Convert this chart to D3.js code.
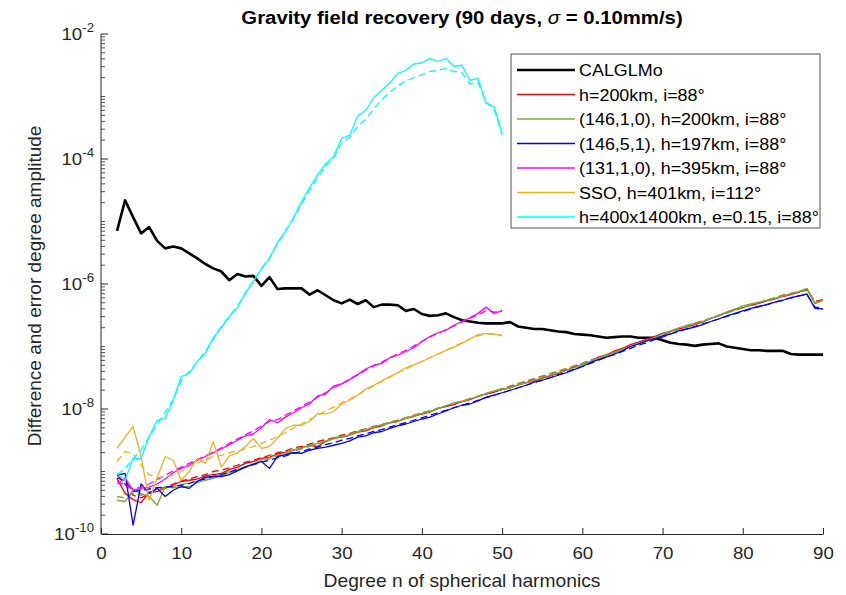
<!DOCTYPE html>
<html><head><meta charset="utf-8">
<script src="https://cdn.jsdelivr.net/npm/d3@7"></script>
<style>body{margin:0;background:#fff}svg{display:block}text{font-family:"Liberation Sans",Arial,sans-serif}</style>
</head><body>
<svg id="c" width="846" height="595"></svg>
<script>
// ---- data (values given as log10 of the amplitude) ----
const titleText = "Gravity field recovery (90 days, ";
const xLabel = "Degree n of spherical harmonics";
const yLabel = "Difference and error degree amplitude";
const xTicks = [0,10,20,30,40,50,60,70,80,90];
const yTickExps = [-2,-4,-6,-8,-10];
const legendLabels = ["CALGLMo","h=200km, i=88°","(146,1,0), h=200km, i=88°","(146,5,1), h=197km, i=88°","(131,1,0), h=395km, i=88°","SSO, h=401km, i=112°","h=400x1400km, e=0.15, i=88°"];
const colors = ["#000000","#ff0000","#77ac30","#0000ff","#ff00ff","#edb120","#00ffff"];
const firstDegree = 2;

const calglmo = [-5.15,-4.66,-4.93,-5.19,-5.09,-5.31,-5.43,-5.40,-5.43,-5.51,-5.59,-5.68,-5.75,-5.80,-5.94,-5.84,-5.88,-5.87,-6.03,-5.89,-6.08,-6.07,-6.07,-6.07,-6.17,-6.10,-6.18,-6.26,-6.31,-6.25,-6.32,-6.26,-6.37,-6.33,-6.33,-6.34,-6.43,-6.40,-6.48,-6.51,-6.50,-6.47,-6.53,-6.58,-6.60,-6.62,-6.63,-6.63,-6.63,-6.61,-6.68,-6.70,-6.72,-6.72,-6.74,-6.76,-6.77,-6.80,-6.81,-6.82,-6.84,-6.86,-6.85,-6.84,-6.84,-6.86,-6.86,-6.86,-6.90,-6.94,-6.96,-6.97,-6.99,-6.97,-6.96,-6.95,-7.00,-7.02,-7.04,-7.06,-7.06,-7.07,-7.07,-7.07,-7.12,-7.13,-7.13,-7.13,-7.13];

const red = [-9.11,-9.35,-9.45,-9.50,-9.33,-9.32,-9.27,-9.22,-9.16,-9.14,-9.12,-9.07,-9.05,-9.03,-8.97,-8.93,-8.87,-8.84,-8.79,-8.77,-8.72,-8.69,-8.66,-8.62,-8.58,-8.60,-8.52,-8.47,-8.45,-8.42,-8.37,-8.35,-8.30,-8.27,-8.22,-8.20,-8.15,-8.12,-8.08,-8.05,-7.99,-7.96,-7.93,-7.88,-7.85,-7.80,-7.76,-7.73,-7.69,-7.66,-7.62,-7.58,-7.55,-7.51,-7.47,-7.43,-7.38,-7.33,-7.29,-7.24,-7.17,-7.14,-7.07,-7.03,-6.97,-6.93,-6.88,-6.84,-6.79,-6.76,-6.72,-6.69,-6.65,-6.61,-6.55,-6.51,-6.45,-6.41,-6.38,-6.34,-6.31,-6.27,-6.24,-6.20,-6.17,-6.13,-6.08,-6.31,-6.26];
const redDash = [-9.05,-9.20,-9.38,-9.42,-9.36,-9.30,-9.25,-9.20,-9.15,-9.12,-9.08,-9.05,-9.00,-8.98,-8.94,-8.90,-8.85,-8.82,-8.78,-8.74,-8.70,-8.67,-8.62,-8.60,-8.56,-8.52,-8.49,-8.46,-8.42,-8.39,-8.35,-8.32,-8.28,-8.25,-8.21,-8.18,-8.14,-8.10,-8.06,-8.03,-7.99,-7.95,-7.92,-7.88,-7.84,-7.80,-7.76,-7.72,-7.68,-7.64,-7.60,-7.56,-7.52,-7.48,-7.44,-7.40,-7.36,-7.31,-7.27,-7.22,-7.18,-7.13,-7.09,-7.04,-7.00,-6.95,-6.90,-6.86,-6.81,-6.77,-6.72,-6.68,-6.63,-6.59,-6.55,-6.50,-6.46,-6.42,-6.38,-6.34,-6.30,-6.26,-6.22,-6.18,-6.15,-6.12,-6.10,-6.28,-6.25];

const green = [-9.46,-9.48,-9.30,-9.35,-9.40,-9.54,-9.24,-9.26,-9.25,-9.24,-9.18,-9.14,-9.11,-9.06,-9.02,-8.98,-8.93,-8.88,-8.82,-8.78,-8.74,-8.70,-8.65,-8.63,-8.58,-8.55,-8.51,-8.46,-8.44,-8.42,-8.36,-8.33,-8.29,-8.25,-8.22,-8.19,-8.15,-8.11,-8.07,-8.04,-7.99,-7.95,-7.90,-7.88,-7.84,-7.80,-7.75,-7.71,-7.69,-7.66,-7.61,-7.58,-7.54,-7.50,-7.46,-7.42,-7.38,-7.34,-7.29,-7.25,-7.19,-7.16,-7.10,-7.05,-7.00,-6.95,-6.90,-6.86,-6.80,-6.75,-6.70,-6.66,-6.63,-6.60,-6.55,-6.50,-6.45,-6.40,-6.35,-6.32,-6.29,-6.26,-6.23,-6.19,-6.16,-6.12,-6.07,-6.31,-6.26];
const greenDash = [-9.40,-9.42,-9.35,-9.38,-9.35,-9.30,-9.27,-9.24,-9.21,-9.18,-9.15,-9.11,-9.08,-9.04,-9.00,-8.96,-8.92,-8.88,-8.84,-8.80,-8.76,-8.72,-8.68,-8.64,-8.60,-8.56,-8.52,-8.48,-8.44,-8.40,-8.36,-8.33,-8.29,-8.26,-8.22,-8.18,-8.14,-8.11,-8.07,-8.03,-7.99,-7.95,-7.91,-7.87,-7.83,-7.79,-7.75,-7.71,-7.67,-7.63,-7.59,-7.55,-7.51,-7.47,-7.43,-7.39,-7.35,-7.31,-7.27,-7.22,-7.18,-7.13,-7.09,-7.04,-7.00,-6.95,-6.91,-6.86,-6.82,-6.77,-6.73,-6.68,-6.64,-6.59,-6.55,-6.51,-6.47,-6.42,-6.38,-6.34,-6.30,-6.26,-6.22,-6.19,-6.15,-6.12,-6.09,-6.30,-6.27];

const blue = [-9.06,-9.03,-9.86,-9.20,-9.35,-9.27,-9.40,-9.30,-9.24,-9.27,-9.16,-9.09,-9.08,-9.08,-9.05,-8.99,-8.93,-8.88,-8.84,-8.95,-8.76,-8.73,-8.70,-8.71,-8.66,-8.63,-8.61,-8.58,-8.55,-8.51,-8.45,-8.43,-8.38,-8.36,-8.31,-8.27,-8.24,-8.20,-8.16,-8.13,-8.08,-8.03,-7.98,-7.94,-7.92,-7.87,-7.81,-7.78,-7.74,-7.70,-7.66,-7.62,-7.57,-7.54,-7.50,-7.46,-7.42,-7.37,-7.32,-7.26,-7.21,-7.17,-7.12,-7.07,-7.00,-6.96,-6.91,-6.88,-6.83,-6.80,-6.75,-6.72,-6.69,-6.65,-6.60,-6.56,-6.51,-6.47,-6.43,-6.39,-6.36,-6.33,-6.29,-6.26,-6.22,-6.19,-6.16,-6.39,-6.40];
const blueDash = [-9.10,-9.15,-9.32,-9.30,-9.28,-9.26,-9.25,-9.24,-9.22,-9.19,-9.15,-9.12,-9.08,-9.05,-9.01,-8.97,-8.93,-8.89,-8.85,-8.82,-8.78,-8.75,-8.71,-8.68,-8.64,-8.61,-8.57,-8.54,-8.50,-8.47,-8.43,-8.40,-8.36,-8.33,-8.29,-8.25,-8.22,-8.18,-8.14,-8.10,-8.06,-8.02,-7.98,-7.94,-7.90,-7.86,-7.82,-7.78,-7.74,-7.70,-7.66,-7.62,-7.58,-7.54,-7.50,-7.45,-7.41,-7.36,-7.32,-7.27,-7.22,-7.17,-7.13,-7.08,-7.03,-6.98,-6.94,-6.89,-6.85,-6.80,-6.76,-6.72,-6.68,-6.64,-6.60,-6.56,-6.52,-6.48,-6.44,-6.40,-6.36,-6.33,-6.29,-6.26,-6.22,-6.19,-6.17,-6.37,-6.39];

const magenta = [-9.20,-9.10,-9.30,-9.27,-9.25,-9.20,-9.12,-9.02,-8.95,-8.90,-8.82,-8.76,-8.70,-8.64,-8.57,-8.50,-8.43,-8.40,-8.30,-8.17,-8.22,-8.13,-8.06,-7.98,-7.92,-7.79,-7.76,-7.63,-7.60,-7.53,-7.45,-7.36,-7.30,-7.27,-7.18,-7.14,-7.08,-7.02,-6.92,-6.84,-6.78,-6.74,-6.66,-6.60,-6.54,-6.47,-6.37,-6.47,-6.43];
const magentaDash = [-9.15,-9.22,-9.28,-9.25,-9.20,-9.13,-9.06,-8.99,-8.93,-8.87,-8.81,-8.75,-8.69,-8.62,-8.55,-8.48,-8.41,-8.35,-8.27,-8.20,-8.17,-8.10,-8.03,-7.96,-7.89,-7.81,-7.74,-7.66,-7.60,-7.52,-7.45,-7.38,-7.31,-7.25,-7.18,-7.12,-7.06,-6.99,-6.92,-6.85,-6.79,-6.73,-6.67,-6.61,-6.55,-6.49,-6.43,-6.45,-6.42];

const orange = [-8.63,-8.45,-8.28,-8.76,-9.46,-9.10,-8.76,-8.82,-9.14,-9.00,-8.79,-8.87,-8.52,-8.93,-8.75,-8.70,-8.60,-8.47,-8.63,-8.60,-8.47,-8.31,-8.26,-8.26,-8.20,-8.07,-8.08,-8.04,-7.92,-7.86,-7.78,-7.68,-7.62,-7.55,-7.48,-7.42,-7.34,-7.29,-7.24,-7.18,-7.12,-7.06,-7.01,-6.95,-6.88,-6.81,-6.79,-6.80,-6.83];
const orangeDash = [-8.84,-8.68,-8.72,-8.90,-9.05,-9.10,-9.08,-9.06,-9.00,-8.92,-8.86,-8.82,-8.76,-8.74,-8.70,-8.67,-8.64,-8.60,-8.55,-8.50,-8.44,-8.38,-8.30,-8.24,-8.17,-8.10,-8.03,-7.97,-7.90,-7.84,-7.77,-7.70,-7.63,-7.56,-7.49,-7.42,-7.36,-7.30,-7.24,-7.18,-7.12,-7.06,-7.00,-6.94,-6.88,-6.83,-6.80,-6.80,-6.82];

const cyan = [-9.03,-9.14,-8.79,-8.79,-8.44,-8.18,-8.15,-7.86,-7.48,-7.43,-7.24,-7.11,-6.86,-6.70,-6.52,-6.38,-6.14,-5.96,-5.76,-5.59,-5.34,-5.16,-4.94,-4.68,-4.46,-4.25,-4.08,-3.96,-3.67,-3.62,-3.31,-3.22,-3.02,-2.90,-2.78,-2.63,-2.58,-2.48,-2.46,-2.39,-2.44,-2.39,-2.52,-2.50,-2.74,-2.71,-3.11,-3.16,-3.59];
const cyanDash = [-9.05,-8.95,-8.80,-8.65,-8.45,-8.25,-8.05,-7.85,-7.55,-7.40,-7.25,-7.08,-6.88,-6.68,-6.52,-6.35,-6.15,-5.95,-5.75,-5.58,-5.36,-5.15,-4.95,-4.72,-4.50,-4.30,-4.12,-3.98,-3.75,-3.65,-3.48,-3.36,-3.20,-3.05,-2.93,-2.83,-2.75,-2.70,-2.65,-2.60,-2.58,-2.55,-2.60,-2.62,-2.80,-2.78,-3.08,-3.20,-3.62];

// ---- layout ----
const svg = d3.select("#c");
const L = 101, R = 823, T = 34, B = 534;
const SX = 1.1; // horizontal text stretch
const x = d3.scaleLinear().domain([0, 90]).range([L, R]);
const y = d3.scaleLog().domain([1e-10, 1e-2]).range([B, T]);
const axisColor = "#262626";

function series(logs){ return logs.map((e,i)=>({n: firstDegree + i, v: Math.pow(10, e)})); }
const line = d3.line().x(d=>x(d.n)).y(d=>y(d.v));

const plot = svg.append("g");
plot.append("path").datum(series(calglmo)).attr("d", line).attr("fill","none")
  .attr("stroke", colors[0]).attr("stroke-width", 2.6).attr("stroke-linejoin","round");

const pairs = [[red, redDash, 1],[green, greenDash, 2],[blue, blueDash, 3],[magenta, magentaDash, 4],[orange, orangeDash, 5],[cyan, cyanDash, 6]];
pairs.forEach(([s, d, ci])=>{
  plot.append("path").datum(series(s)).attr("d", line).attr("fill","none")
    .attr("stroke", colors[ci]).attr("stroke-width", 1.3).attr("stroke-linejoin","round");
  plot.append("path").datum(series(d)).attr("d", line).attr("fill","none")
    .attr("stroke", colors[ci]).attr("stroke-width", 1.3).attr("stroke-dasharray","7,4");
});

// ---- axes ----
const xAxis = d3.axisBottom(x).tickValues(xTicks).tickSizeInner(-6).tickSizeOuter(0).tickPadding(13).tickFormat(d3.format("d"));
const gx = svg.append("g").attr("transform",`translate(0,${B})`).call(xAxis);
gx.select(".domain").attr("stroke", axisColor).attr("stroke-width", 1);
gx.selectAll(".tick line").attr("stroke", axisColor);
gx.selectAll(".tick text").attr("fill", axisColor).attr("font-size", 17)
  .attr("font-family","Liberation Sans, Arial, sans-serif").attr("transform", `scale(${SX},1)`);

const gy = svg.append("g");
gy.append("line").attr("x1", L).attr("x2", L).attr("y1", T).attr("y2", B).attr("stroke", axisColor).attr("stroke-width", 1);
const minor = [];
for (let d = -10; d < -2; d++) for (let k = 1; k < 10; k++) minor.push(k * Math.pow(10, d));
gy.selectAll("line.minor").data(minor.filter(v => !yTickExps.some(e => Math.abs(Math.log10(v) - e) < 1e-9)))
  .join("line").attr("class","minor").attr("x1", L).attr("x2", L + 4)
  .attr("y1", d=>y(d)).attr("y2", d=>y(d)).attr("stroke", axisColor).attr("stroke-width", 0.8);
gy.selectAll("line.major").data(yTickExps).join("line").attr("class","major")
  .attr("x1", L).attr("x2", L + 7).attr("y1", d=>y(Math.pow(10,d))).attr("y2", d=>y(Math.pow(10,d)))
  .attr("stroke", axisColor).attr("stroke-width", 1);
const yl = gy.selectAll("text.yl").data(yTickExps).join("text").attr("class","yl")
  .attr("transform", d=>`translate(${L - 7},${y(Math.pow(10,d)) + 6}) scale(${SX},1)`).attr("text-anchor","end")
  .attr("fill", axisColor).attr("font-size", 17);
yl.append("tspan").text("10");
yl.append("tspan").attr("dy", -8).attr("font-size", 12).text(d=>String(d));

// axis labels
svg.append("text").attr("transform", `translate(${(L+R)/2},587) scale(${SX},1)`).attr("text-anchor","middle")
  .attr("font-size", 17.5).attr("fill", axisColor).text(xLabel);
svg.append("text").attr("transform", `translate(41,${(T+B)/2 + 2}) rotate(-90)`).attr("text-anchor","middle")
  .attr("font-size", 19).attr("fill", axisColor).text(yLabel);

// title
const tt = svg.append("text").attr("transform", `translate(${(L+R)/2},24) scale(${SX},1)`).attr("text-anchor","middle")
  .attr("font-size", 18.5).attr("font-weight","bold").attr("fill","#000");
tt.append("tspan").text(titleText);
tt.append("tspan").attr("font-style","italic").attr("font-weight","normal").text("\u03c3");
tt.append("tspan").text(" = 0.10mm/s)");

// ---- legend ----
const lg = svg.append("g");
const lx = 511, ly = 54, lw = 309, lh = 174;
lg.append("rect").attr("x", lx).attr("y", ly).attr("width", lw).attr("height", lh)
  .attr("fill","#fff").attr("stroke", axisColor).attr("stroke-width", 0.8);
legendLabels.forEach((t,i)=>{
  const yy = ly + 16 + i * 24.5;
  lg.append("line").attr("x1", lx + 6).attr("x2", lx + 64).attr("y1", yy).attr("y2", yy)
    .attr("stroke", colors[i]).attr("stroke-width", i === 0 ? 2.6 : 1.3);
  lg.append("text").attr("transform", `translate(${lx + 68},${yy + 6}) scale(${SX},1)`)
    .attr("font-size", 16.3).attr("fill","#000").text(t);
});
</script>
</body></html>
